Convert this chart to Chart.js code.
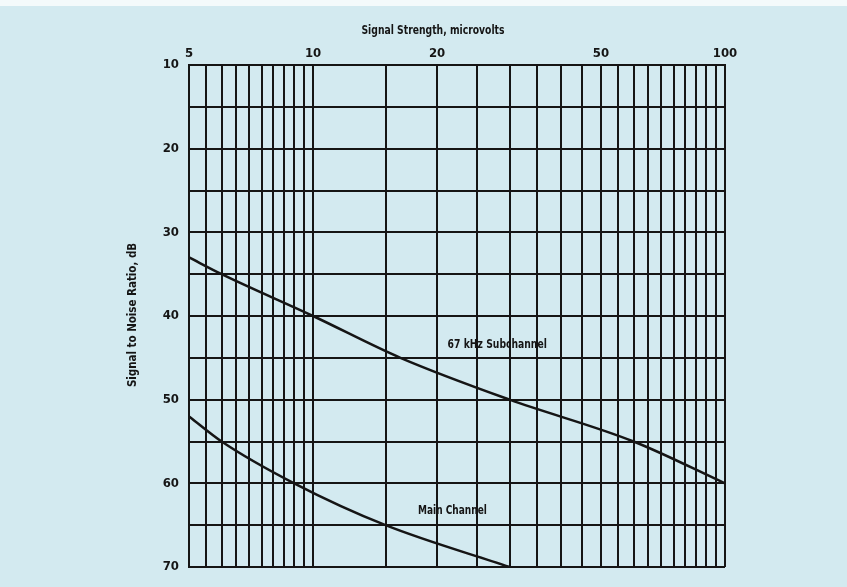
<!DOCTYPE html>
<html lang="en">
<head>
	<meta charset="utf-8">
	<title>Signal to Noise Ratio</title>
	<style>
html, body {
	margin: 0;
	padding: 0;
	background: #d3eaf0;
}
#chartWrapper {
	width: 847px;
	height: 587px;
	border-top: 6px solid #f4fafb;
	box-sizing: border-box;
}
	</style>
</head>
<body>

<div id="chartWrapper">
  <canvas id="myChart"></canvas>
</div>

<script src="https://cdn.jsdelivr.net/npm/chart.js"></script>
<script>
// signal strength (microvolts) vs. signal-to-noise (dB)
const subX = [5, 6, 10, 16.3, 30, 60, 100];
const subY = [33, 35, 40, 45, 50, 55, 60];
const mainX = [5, 6, 9, 15, 30];
const mainY = [52, 55, 60, 65, 70];

// vertical rulings of the log paper and the ones that get a number
const gridX = [5, 5.5, 6, 6.5, 7, 7.5, 8, 8.5, 9, 9.5, 10, 15, 20, 25, 30, 35, 40, 45, 50,
	55, 60, 65, 70, 75, 80, 85, 90, 95, 100];
const labelX = [5, 10, 20, 50, 100];
const labelY = [10, 20, 30, 40, 50, 60, 70];

const FONT = "'Liberation Sans Narrow', 'DejaVu Sans Condensed', sans-serif";
const INK = '#151515';

function pts(xs, ys) {
	return xs.map((x, i) => ({ x: x, y: ys[i] }));
}

// narrow bold lettering, squeezed sideways
function narrowText(ctx, text, x, y, squeeze, angle) {
	ctx.save();
	ctx.translate(x, y);
	if (angle) ctx.rotate(angle);
	ctx.scale(squeeze, 1);
	ctx.fillText(text, 0, 0);
	ctx.restore();
}

const textPlugin = {
	id: 'chartText',
	afterDraw(chart) {
		const ctx = chart.ctx;
		const xs = chart.scales.x, ys = chart.scales.y;
		ctx.save();
		ctx.fillStyle = INK;
		ctx.font = 'bold 13px ' + FONT;
		ctx.textAlign = 'center';
		ctx.textBaseline = 'middle';
		narrowText(ctx, 'Signal Strength, microvolts', 433, 25, 0.79);
		narrowText(ctx, '67 kHz Subchannel', xs.getPixelForValue(28), ys.getPixelForValue(43.4), 0.79);
		narrowText(ctx, 'Main Channel', xs.getPixelForValue(21.8), ys.getPixelForValue(63.3), 0.77);
		narrowText(ctx, 'Signal to Noise Ratio, dB', 133, 309, 0.88, -Math.PI / 2);
		ctx.restore();
	}
};

const ctx = document.getElementById('myChart');

new Chart(ctx, {
	type: 'line',
	data: {
		datasets: [{
			label: '67 kHz Subchannel',
			data: pts(subX, subY),
			borderColor: INK,
			borderWidth: 2.5,
			pointRadius: 0,
			cubicInterpolationMode: 'monotone'
		}, {
			label: 'Main Channel',
			data: pts(mainX, mainY),
			borderColor: INK,
			borderWidth: 2.5,
			pointRadius: 0,
			cubicInterpolationMode: 'monotone'
		}]
	},
	options: {
		responsive: true,
		maintainAspectRatio: false,
		animation: false,
		layout: {
			padding: { top: 0, right: 122, bottom: 20, left: 0 }
		},
		plugins: {
			legend: { display: false },
			tooltip: { enabled: false }
		},
		scales: {
			x: {
				type: 'logarithmic',
				position: 'top',
				min: 5,
				max: 100,
				afterFit: s => { s.height = 59; },
				afterBuildTicks: s => { s.ticks = gridX.map(v => ({ value: v })); },
				ticks: {
					autoSkip: false,
					maxRotation: 0,
					padding: 4,
					color: INK,
					font: { family: FONT, size: 13, weight: 'bold' },
					callback: v => labelX.includes(v) ? String(v) : ''
				},
				grid: { color: INK, lineWidth: 2, drawTicks: false },
				border: { color: INK, width: 2 }
			},
			y: {
				type: 'linear',
				reverse: true,
				min: 10,
				max: 70,
				afterFit: s => { s.width = 189; },
				ticks: {
					stepSize: 5,
					autoSkip: false,
					padding: 10,
					color: INK,
					font: { family: FONT, size: 13, weight: 'bold' },
					callback: v => labelY.includes(v) ? String(v) : ''
				},
				grid: { color: INK, lineWidth: 2, drawTicks: false },
				border: { color: INK, width: 2 }
			}
		}
	},
	plugins: [textPlugin]
});
</script>
</body>
</html>
